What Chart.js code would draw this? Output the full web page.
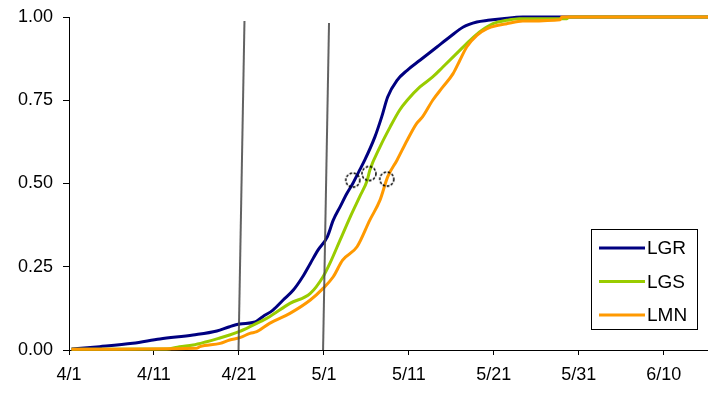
<!DOCTYPE html>
<html>
<head>
<meta charset="utf-8">
<script src="https://cdn.jsdelivr.net/npm/chart.js@4.4.0/dist/chart.umd.min.js"></script>
<style>
  html, body { margin: 0; padding: 0; background: #fff; }
  #wrap { width: 708px; height: 394px; position: relative; }
</style>
</head>
<body>
<div id="wrap"><canvas id="c" width="708" height="394"></canvas></div>
<script>
// Cumulative proportion of passage by day (days counted from 4/1)
const tickDays   = [0, 10, 20, 30, 40, 50, 60, 70];
const tickLabels = ['4/1', '4/11', '4/21', '5/1', '5/11', '5/21', '5/31', '6/10'];
const seriesNames = ['LGR', 'LGS', 'LMN'];

const lgrDays = [0.3, 3.6, 7.5, 10.7, 14.6, 17.4, 18.9, 20.1, 21.9, 22.8, 24.0, 25.2, 26.4, 27.5, 28.4, 29.3, 30.4, 31.1, 31.9, 32.7, 33.4, 34.2, 34.8, 36.0, 36.8, 37.5, 38.6, 39.8, 41.3, 43.3, 44.8, 46.4, 48.0, 49.3, 51.0, 53.4, 75.2];
const lgrValues = [0.003, 0.01, 0.02, 0.033, 0.045, 0.057, 0.07, 0.078, 0.084, 0.10, 0.12, 0.15, 0.18, 0.22, 0.26, 0.30, 0.34, 0.39, 0.43, 0.47, 0.50, 0.54, 0.57, 0.64, 0.70, 0.76, 0.81, 0.84, 0.87, 0.91, 0.94, 0.97, 0.985, 0.99, 0.995, 1.0, 1.0];

const lgsDays = [0.3, 11.5, 13.0, 14.6, 16.2, 17.6, 18.9, 20.0, 21.3, 22.5, 23.6, 26.0, 28.4, 29.9, 30.7, 31.9, 33.1, 34.2, 35.1, 35.4, 36.6, 37.8, 38.9, 39.8, 41.3, 42.8, 44.0, 45.6, 47.2, 48.6, 49.9, 51.5, 53.0, 58.6, 58.8, 75.2];
const lgsValues = [0.002, 0.003, 0.01, 0.015, 0.025, 0.035, 0.045, 0.055, 0.07, 0.085, 0.10, 0.14, 0.17, 0.22, 0.26, 0.33, 0.40, 0.46, 0.51, 0.54, 0.61, 0.67, 0.72, 0.75, 0.79, 0.82, 0.85, 0.89, 0.93, 0.96, 0.98, 0.99, 0.995, 0.995, 1.0, 1.0];

const lmnDays = [0.3, 15.0, 15.4, 17.8, 18.9, 20.1, 21.3, 22.1, 23.6, 26.0, 28.4, 29.9, 31.1, 32.2, 33.9, 35.4, 36.6, 37.5, 38.6, 39.8, 40.9, 41.6, 42.8, 44.0, 45.2, 46.0, 46.8, 48.0, 49.2, 50.5, 51.5, 53.4, 57.8, 58.0, 75.2];
const lmnValues = [0.002, 0.005, 0.01, 0.02, 0.03, 0.037, 0.05, 0.055, 0.08, 0.11, 0.15, 0.185, 0.22, 0.27, 0.31, 0.39, 0.45, 0.52, 0.57, 0.63, 0.68, 0.70, 0.75, 0.79, 0.83, 0.87, 0.91, 0.945, 0.965, 0.975, 0.98, 0.988, 0.992, 1.0, 1.0];

// Median passage dates marked on each curve
const medianDays   = [33.4, 35.3, 37.4];
const medianValues = [0.51, 0.53, 0.513];

// Reference lines (start and end of the window)
const windowLine1Days = [19.95, 20.65];
const windowLine1Vals = [0.0, 0.988];
const windowLine2Days = [29.9, 30.6];
const windowLine2Vals = [0.0, 0.982];

const seriesColors = ['#000080', '#99CC00', '#FF9900'];

const pts = (xs, ys) => xs.map((x, i) => ({ x: x, y: ys[i] }));

// Dashed ring used as the point marker for the medians
function dashedRing(r) {
  const size = 2 * r + 4;
  const cv = document.createElement('canvas');
  cv.width = size; cv.height = size;
  const g = cv.getContext('2d');
  g.strokeStyle = '#000';
  g.lineWidth = 1.5;
  g.setLineDash([2.6, 1.6]);
  g.beginPath();
  g.arc(size / 2, size / 2, r, 0, Math.PI * 2);
  g.stroke();
  return cv;
}

const FONT = '"Liberation Sans", Arial, sans-serif';

const boxLegend = {
  id: 'boxLegend',
  afterDraw(chart) {
    const ctx = chart.ctx;
    const x0 = 591, y0 = 229, w = 106, h = 100;
    ctx.save();
    ctx.fillStyle = '#fff';
    ctx.fillRect(x0, y0, w, h);
    ctx.strokeStyle = '#000';
    ctx.lineWidth = 1;
    ctx.strokeRect(x0 + 0.5, y0 + 0.5, w, h);
    ctx.font = '19px ' + FONT;
    ctx.textBaseline = 'middle';
    ctx.textAlign = 'left';
    for (let i = 0; i < 3; i++) {
      const ds = chart.data.datasets[i];
      const yy = y0 + 19 + i * 33.5;
      ctx.strokeStyle = ds.borderColor;
      ctx.lineWidth = 3;
      ctx.beginPath();
      ctx.moveTo(599, yy);
      ctx.lineTo(645, yy);
      ctx.stroke();
      ctx.fillStyle = '#000';
      ctx.fillText(ds.label, 647, yy + 1);
    }
    ctx.restore();
  }
};

const lineDs = (label, data, color, order) => ({
  label: label, data: data, borderColor: color, backgroundColor: color,
  borderWidth: 3, pointRadius: 0, cubicInterpolationMode: 'monotone',
  clip: false, order: order
});

new Chart(document.getElementById('c'), {
  type: 'line',
  data: {
    datasets: [
      lineDs(seriesNames[0], pts(lgrDays, lgrValues), seriesColors[0], 5),
      lineDs(seriesNames[1], pts(lgsDays, lgsValues), seriesColors[1], 4),
      lineDs(seriesNames[2], pts(lmnDays, lmnValues), seriesColors[2], 3),
      {
        label: 'window1', data: pts(windowLine1Days, windowLine1Vals),
        borderColor: 'rgba(70,70,70,0.85)', borderWidth: 2, pointRadius: 0, order: 1, clip: false
      },
      {
        label: 'window2', data: pts(windowLine2Days, windowLine2Vals),
        borderColor: 'rgba(70,70,70,0.85)', borderWidth: 2, pointRadius: 0, order: 1, clip: false
      },
      {
        label: 'median', data: pts(medianDays, medianValues), showLine: false,
        pointStyle: dashedRing(7), pointRadius: 9, order: 0, clip: false
      }
    ]
  },
  options: {
    responsive: false,
    animation: false,
    events: [],
    layout: { autoPadding: false, padding: { top: 17, right: 0, left: 0, bottom: 0 } },
    plugins: { legend: { display: false }, tooltip: { enabled: false } },
    scales: {
      x: {
        type: 'linear', min: 0, max: 75.2,
        afterFit(s) { s.height = 44; s.paddingRight = 0; s.paddingLeft = 0; },
        afterBuildTicks(s) { s.ticks = tickDays.map(v => ({ value: v })); },
        border: { display: true, color: '#000', width: 1 },
        grid: { drawOnChartArea: false, drawTicks: true, tickLength: 5, color: '#000' },
        ticks: {
          color: '#000', font: { family: FONT, size: 18 }, padding: 9, maxRotation: 0,
          callback: (v) => { const i = tickDays.indexOf(v); return i >= 0 ? tickLabels[i] : ''; }
        }
      },
      y: {
        type: 'linear', min: 0, max: 1,
        afterFit(s) { s.width = 69; s.paddingTop = 0; s.paddingBottom = 0; },
        border: { display: true, color: '#000', width: 1 },
        grid: { drawOnChartArea: false, drawTicks: true, tickLength: 6, color: '#000' },
        ticks: {
          stepSize: 0.25, color: '#000', font: { family: FONT, size: 18 }, padding: 10,
          callback: (v) => Number(v).toFixed(2)
        }
      }
    }
  },
  plugins: [boxLegend]
});
</script>
</body>
</html>
